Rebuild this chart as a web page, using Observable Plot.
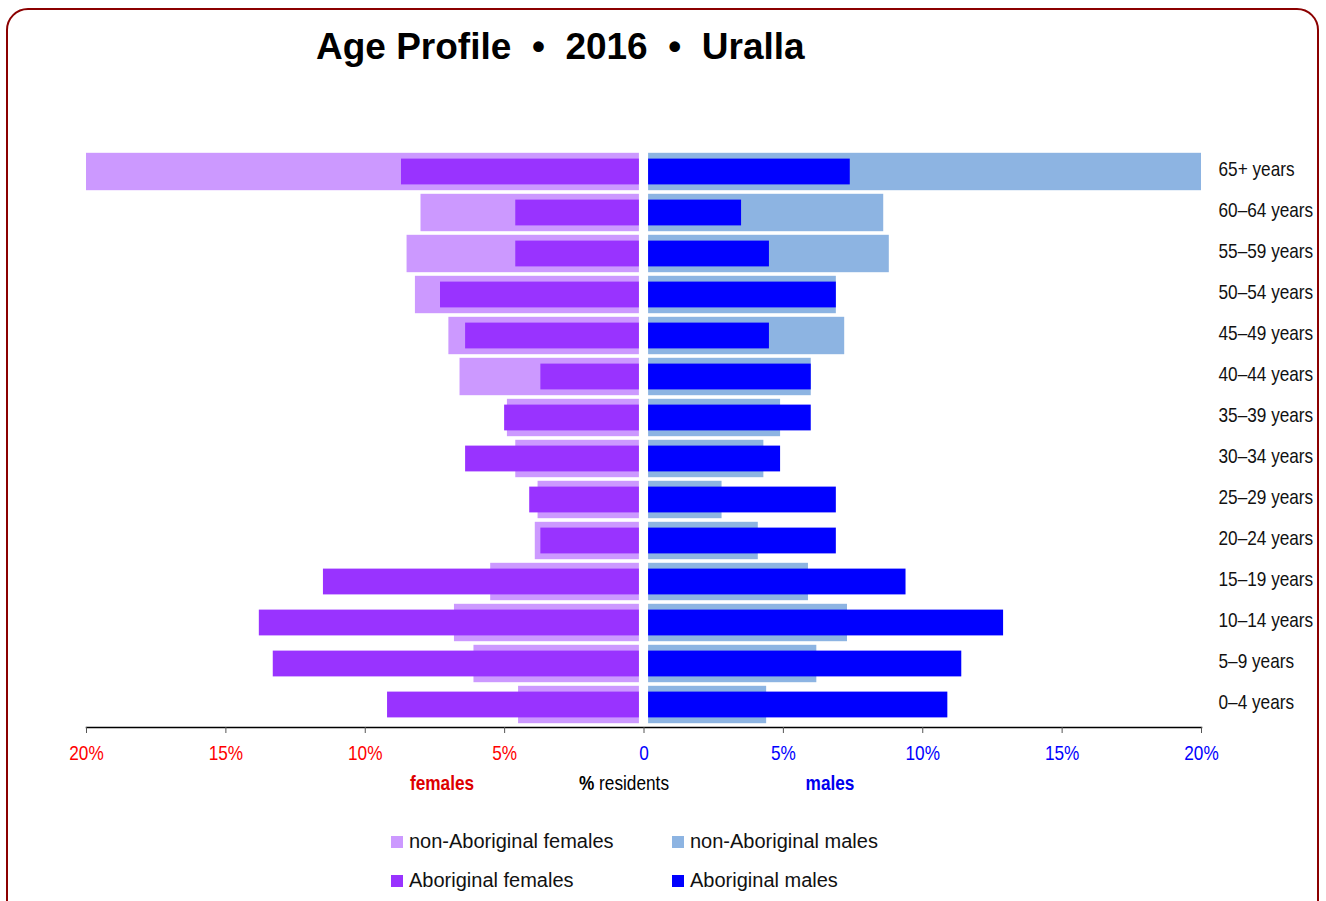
<!DOCTYPE html>
<html>
<head>
<meta charset="utf-8">
<script src="https://cdn.jsdelivr.net/npm/d3@7"></script>
<script src="https://cdn.jsdelivr.net/npm/@observablehq/plot@0.6"></script>
<style>
  html, body { margin: 0; padding: 0; background: #fff; }
  body { width: 1326px; height: 901px; position: relative; overflow: hidden; }
  .abs { position: absolute; white-space: pre; }
  .reg { font-family: "Liberation Sans", Arial, sans-serif; }
  #frame { position: absolute; left: 6px; top: 8px; width: 1313px; height: 940px; border: 2.5px solid #8b0000; border-radius: 22px; box-sizing: border-box; }
  #title { left: 316px; top: 27px; font-family: "Liberation Sans", Arial, sans-serif; font-weight: bold; font-size: 37px; line-height: 40px; color: #000; }
  #chart { position: absolute; left: 0; top: 100px; }
  .axt { font-family: "Liberation Sans", Arial, sans-serif; font-size: 21px; line-height: 24px; top: 771px; transform: translateX(-50%) scaleX(0.82); }
  .leg { font-size: 20px; line-height: 24px; color: #111; }
  .sw { position: absolute; width: 12px; height: 12px; }
</style>
</head>
<body>
<div id="frame"></div>
<div id="title" class="abs">Age Profile  •  2016  •  Uralla</div>
<div id="chart"></div>

<div class="abs axt" style="left:442px; font-weight:bold; color:#dd0000;">females</div>
<div class="abs axt" style="left:624px; color:#000;"><b>%</b> residents</div>
<div class="abs axt" style="left:830px; font-weight:bold; color:#0000ee;">males</div>

<div id="legend"></div>

<script>
// ---- Data (percent of residents) ----
const ages = ["65+ years","60–64 years","55–59 years","50–54 years","45–49 years","40–44 years","35–39 years","30–34 years","25–29 years","20–24 years","15–19 years","10–14 years","5–9 years","0–4 years"];
const nonAboriginalFemales = [20.0, 8.0, 8.5, 8.2, 7.0, 6.6, 4.9, 4.6, 3.8, 3.9, 5.5, 6.8, 6.1, 4.5];
const aboriginalFemales    = [8.7, 4.6, 4.6, 7.3, 6.4, 3.7, 5.0, 6.4, 4.1, 3.7, 11.5, 13.8, 13.3, 9.2];
const nonAboriginalMales   = [20.0, 8.6, 8.8, 6.9, 7.2, 6.0, 4.9, 4.3, 2.8, 4.1, 5.9, 7.3, 6.2, 4.4];
const aboriginalMales      = [7.4, 3.5, 4.5, 6.9, 4.5, 6.0, 6.0, 4.9, 6.9, 6.9, 9.4, 12.9, 11.4, 10.9];
const xTicks = [-20, -15, -10, -5, 0, 5, 10, 15, 20];
const legendItems = ["non-Aboriginal females", "non-Aboriginal males", "Aboriginal females", "Aboriginal males"];
const legendColors = ["#cc99ff", "#8db4e2", "#9933ff", "#0000ff"];

const gap = 0.165;
const rows = ages.map((age, i) => ({
  age,
  nf: nonAboriginalFemales[i], af: aboriginalFemales[i],
  nm: nonAboriginalMales[i], am: aboriginalMales[i]
}));

const fmt = d => d === 0 ? "0" : Math.abs(d) + "%";

const chart = Plot.plot({
  width: 1326,
  height: 670,
  marginLeft: 86,
  marginRight: 125,
  marginTop: 48.3,
  marginBottom: 43,
  x: {domain: [-20, 20]},
  y: {domain: ages, padding: 0},
  style: {fontFamily: '"Liberation Sans", Arial, sans-serif', fontSize: "21px", background: "transparent", overflow: "visible"},
  marks: [
    Plot.barX(rows, {y: "age", x1: () => -gap, x2: d => -d.nf, fill: legendColors[0], insetTop: 1.8, insetBottom: 1.8}),
    Plot.barX(rows, {y: "age", x1: () => gap, x2: d => d.nm, fill: legendColors[1], insetTop: 1.8, insetBottom: 1.8}),
    Plot.barX(rows, {y: "age", x1: () => -gap, x2: d => -d.af, fill: legendColors[2], insetTop: 7.6, insetBottom: 7.6}),
    Plot.barX(rows, {y: "age", x1: () => gap, x2: d => d.am, fill: legendColors[3], insetTop: 7.6, insetBottom: 7.6}),
    Plot.frame({anchor: "bottom", stroke: "#000", strokeWidth: 1.5}),
    Plot.axisX(xTicks.filter(d => d < 0), {tickFormat: fmt, fill: "#ff0000", stroke: "#555", tickSize: 6, tickPadding: 12, label: null}),
    Plot.axisX(xTicks.filter(d => d >= 0), {tickFormat: fmt, fill: "#0000ff", stroke: "#555", tickSize: 6, tickPadding: 12, label: null}),
    Plot.axisY({anchor: "right", tickSize: 0, tickPadding: 17, dy: -2.5, label: null, fill: "#111"})
  ]
});
document.getElementById("chart").appendChild(chart);

// condensed look for tick labels (no narrow font installed)
chart.querySelectorAll('g[aria-label$="tick label"] text').forEach(t => {
  const x = +(t.getAttribute("x") || 0);
  t.removeAttribute("x");
  const old = t.getAttribute("transform") || "";
  t.setAttribute("transform", `${old} translate(${x},0) scale(0.82,1)`);
});

// legend
const leg = document.getElementById("legend");
const pos = [[391, 836], [672, 836], [391, 875], [672, 875]];
legendItems.forEach((t, i) => {
  const sw = document.createElement("div");
  sw.className = "sw";
  sw.style.left = pos[i][0] + "px";
  sw.style.top = pos[i][1] + "px";
  sw.style.background = legendColors[i];
  leg.appendChild(sw);
  const tx = document.createElement("div");
  tx.className = "abs reg leg";
  tx.style.left = (pos[i][0] + 18) + "px";
  tx.style.top = (pos[i][1] - 7) + "px";
  tx.textContent = t;
  leg.appendChild(tx);
});
</script>
</body>
</html>
